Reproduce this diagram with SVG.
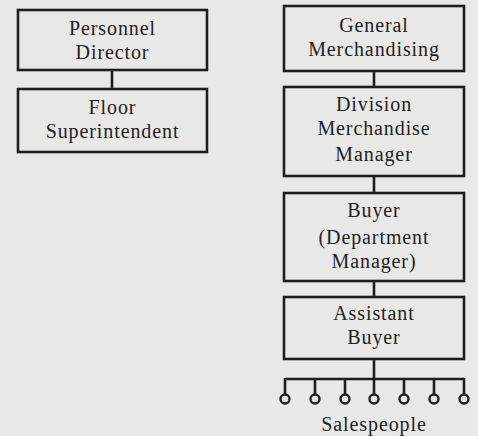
<svg xmlns="http://www.w3.org/2000/svg" width="478" height="436" viewBox="0 0 478 436">
<style>
.box{fill:none;stroke:#1e1e1e;stroke-width:2.6}
.ln{stroke:#1e1e1e;stroke-width:2.6;fill:none}
.dot{fill:none;stroke:#1e1e1e;stroke-width:2.4}
text{font-family:"Liberation Serif","DejaVu Serif",serif;font-size:20px;fill:#222;text-anchor:middle;letter-spacing:0.9px}
</style>
<rect width="478" height="436" fill="#e8e8e6"/>
<g id="connectors">
<line class="ln" x1="112" y1="70" x2="112" y2="89"/>
<line class="ln" x1="374" y1="71" x2="374" y2="87"/>
<line class="ln" x1="374" y1="176" x2="374" y2="193"/>
<line class="ln" x1="374" y1="281" x2="374" y2="297"/>
<line class="ln" x1="374" y1="359" x2="374" y2="379"/>
<line class="ln" x1="285" y1="379" x2="464" y2="379"/>
<path class="ln" d="M285 378v16.5M315 379v15.5M345 379v15.5M374 379v15.5M404 379v15.5M434 379v15.5M464 378v16.5"/>
</g>
<g id="salespeople">
<circle class="dot" cx="285" cy="399" r="4.5"/>
<circle class="dot" cx="315" cy="399" r="4.5"/>
<circle class="dot" cx="345" cy="399" r="4.5"/>
<circle class="dot" cx="374" cy="399" r="4.5"/>
<circle class="dot" cx="404" cy="399" r="4.5"/>
<circle class="dot" cx="434" cy="399" r="4.5"/>
<circle class="dot" cx="464" cy="399" r="4.5"/>
<text x="374" y="431">Salespeople</text>
</g>
<g id="personnel-director">
<rect class="box" x="18" y="10" width="189" height="60"/>
<text x="112.5" y="35">Personnel</text>
<text x="112.5" y="59">Director</text>
</g>
<g id="floor-superintendent">
<rect class="box" x="18" y="89" width="189" height="63"/>
<text x="112.5" y="114">Floor</text>
<text x="112.5" y="138">Superintendent</text>
</g>
<g id="general-merchandising">
<rect class="box" x="284" y="6" width="180" height="65"/>
<text x="374" y="32">General</text>
<text x="374" y="56">Merchandising</text>
</g>
<g id="division-merchandise-manager">
<rect class="box" x="284" y="87" width="180" height="89"/>
<text x="374" y="111">Division</text>
<text x="374" y="135">Merchandise</text>
<text x="374" y="161">Manager</text>
</g>
<g id="buyer">
<rect class="box" x="284" y="193" width="180" height="88"/>
<text x="374" y="217">Buyer</text>
<text x="374" y="244">(Department</text>
<text x="374" y="268">Manager)</text>
</g>
<g id="assistant-buyer">
<rect class="box" x="284" y="297" width="180" height="62"/>
<text x="374" y="320">Assistant</text>
<text x="374" y="344">Buyer</text>
</g>
</svg>
